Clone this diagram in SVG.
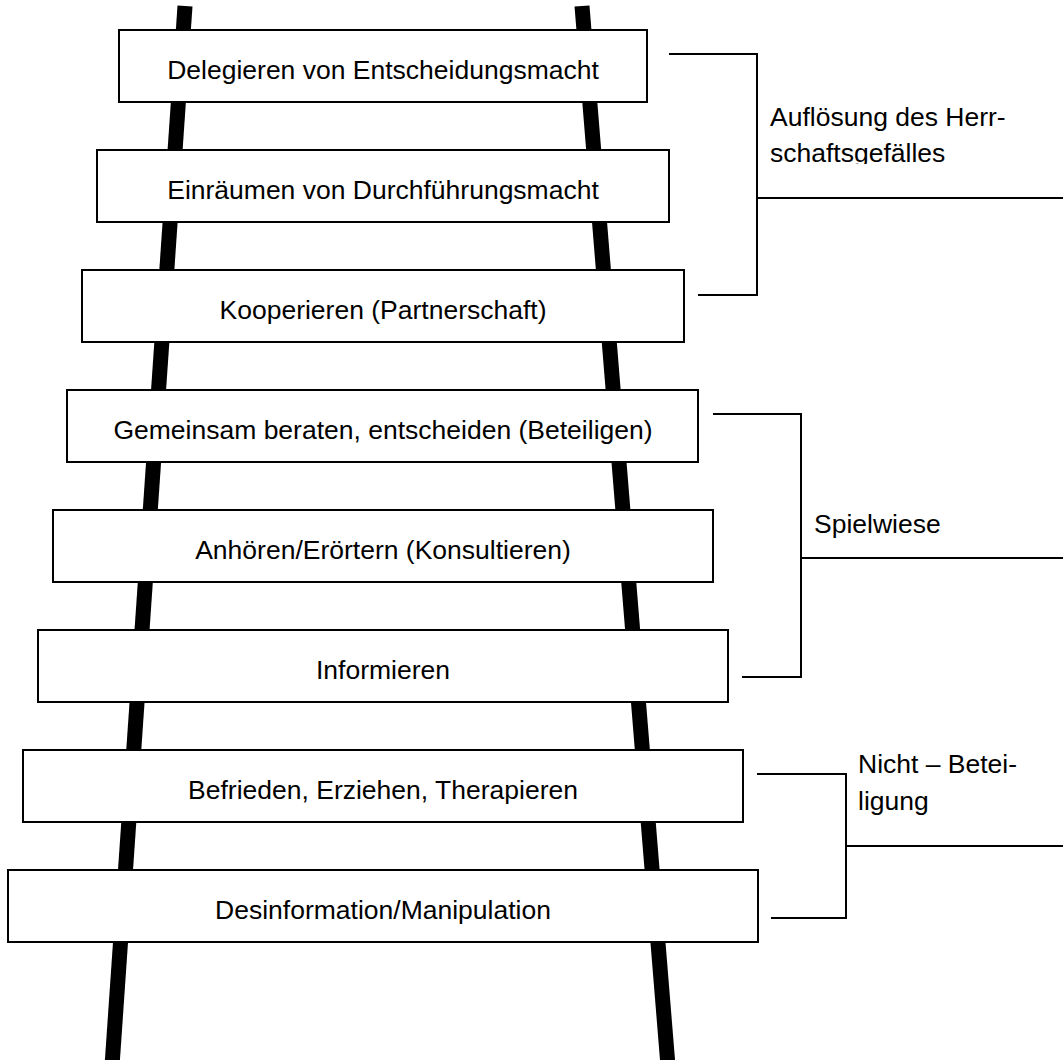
<svg xmlns="http://www.w3.org/2000/svg" width="1063" height="1060" viewBox="0 0 1063 1060">
<style>
.rail{stroke:#000;stroke-width:15;fill:none}
.box{fill:#fff;stroke:#000;stroke-width:2}
.t{font-family:"Liberation Sans",Arial,sans-serif;font-size:26.5px;fill:#000}
.c{text-anchor:middle}
.br{fill:none;stroke:#000;stroke-width:2}
</style>
<defs>
<clipPath id="clip1"><rect x="760" y="90" width="303" height="74"/></clipPath>
</defs>
<rect width="1063" height="1060" fill="#fff"/>
<g id="rails">
<line class="rail" x1="185" y1="6" x2="112" y2="1066"/>
<line class="rail" x1="582" y1="6" x2="668" y2="1066"/>
</g>
<g id="node1"><rect class="box" x="119" y="30" width="528" height="72"/><text class="t c" x="383" y="79">Delegieren von Entscheidungsmacht</text></g>
<g id="node2"><rect class="box" x="97" y="150" width="572" height="72"/><text class="t c" x="383" y="199">Einräumen von Durchführungsmacht</text></g>
<g id="node3"><rect class="box" x="82" y="270" width="602" height="72"/><text class="t c" x="383" y="319">Kooperieren (Partnerschaft)</text></g>
<g id="node4"><rect class="box" x="67" y="390" width="631" height="72"/><text class="t c" x="383" y="439">Gemeinsam beraten, entscheiden (Beteiligen)</text></g>
<g id="node5"><rect class="box" x="53" y="510" width="660" height="72"/><text class="t c" x="383" y="559">Anhören/Erörtern (Konsultieren)</text></g>
<g id="node6"><rect class="box" x="38" y="630" width="690" height="72"/><text class="t c" x="383" y="679">Informieren</text></g>
<g id="node7"><rect class="box" x="23" y="750" width="720" height="72"/><text class="t c" x="383" y="799">Befrieden, Erziehen, Therapieren</text></g>
<g id="node8"><rect class="box" x="8" y="870" width="750" height="72"/><text class="t c" x="383" y="919">Desinformation/Manipulation</text></g>
<g id="connectors">
<polyline class="br" points="669,54 757,54 757,295 698,295"/>
<line class="br" x1="757" y1="198" x2="1063" y2="198"/>
<polyline class="br" points="713,414 801,414 801,677 742,677"/>
<line class="br" x1="801" y1="558" x2="1063" y2="558"/>
<polyline class="br" points="757,774 846,774 846,918 771,918"/>
<line class="br" x1="846" y1="846" x2="1063" y2="846"/>
</g>
<g id="label1" clip-path="url(#clip1)"><text class="t" x="770" y="126">Auflösung des Herr-</text><text class="t" x="770" y="162">schaftsgefälles</text></g>
<g id="label2"><text class="t" x="814" y="533">Spielwiese</text></g>
<g id="label3"><text class="t" x="858" y="773">Nicht – Betei-</text><text class="t" x="858" y="810">ligung</text></g>
</svg>
